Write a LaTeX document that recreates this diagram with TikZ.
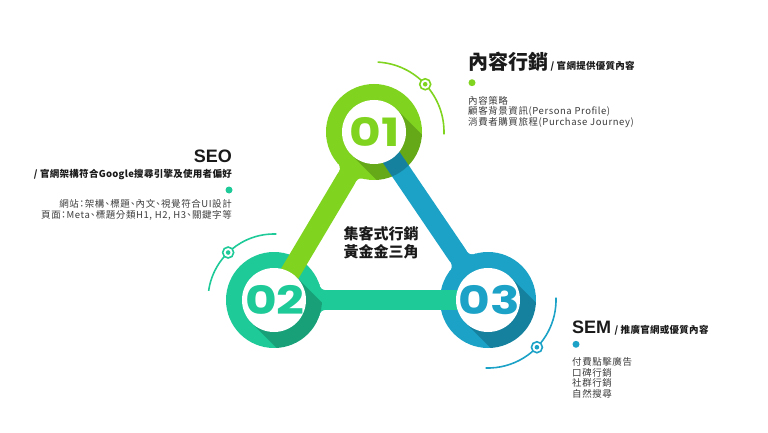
\documentclass[tikz,border=0pt]{standalone}
\usepackage{fontspec}
\setmainfont{Noto Sans CJK TC}
\newfontfamily\bodyfont{Noto Sans CJK TC}[LetterSpace=6, RawFeature=+halt]
\newfontfamily\subfont{Noto Sans CJK TC}[LetterSpace=3]
\newfontfamily\numfont{Poppins}
\newfontfamily\latfont{Liberation Sans}
\usepackage{tikz}

\definecolor{cone}{RGB}{128,212,31}
\definecolor{ctwo}{RGB}{30,202,152}
\definecolor{cthree}{RGB}{28,162,198}
\definecolor{ink}{RGB}{26,26,26}

\begin{document}
\begin{tikzpicture}[x=1pt, y=1pt,
    bar/.style={line width=20pt},
    num/.style={font=\numfont\bfseries\fontsize{39}{39}\selectfont, inner sep=0pt, xscale=1.25},
    head/.style={font=\bfseries\fontsize{20}{20}\selectfont, text=ink, inner sep=0pt},
    headlat/.style={font=\latfont\bfseries\fontsize{18}{18}\selectfont, text=ink, inner sep=0pt},
    sub/.style={font=\subfont\bfseries\fontsize{9.5}{9.5}\selectfont, text=ink, inner sep=0pt},
    body/.style={font=\bodyfont\fontsize{9.5}{9.5}\selectfont, text=ink!85, inner sep=0pt}]
  \useasboundingbox (0,0) rectangle (768,432);

  \coordinate (one) at (374,300);
  \coordinate (two) at (274,132);
  \coordinate (three) at (488,132);

  % rings
  \foreach \r/\c in {one/cone, two/ctwo, three/cthree}
    \fill[\c] (\r) circle (48);

  % links
  \draw[bar, cone] (one) -- (two);
  \draw[bar, ctwo] (two) -- (three);
  \draw[bar, cthree] (three) -- (one);

  % fillets where a link leaves its own ring
  \foreach \r/\a/\c in {one/239.2/cone, two/0/ctwo, three/124.2/cthree}{
    \begin{scope}[shift={(\r)}, rotate=\a]
      \fill[\c] (40,-16) rectangle (51.6,16);
      \fill[white] (51.6,16) circle (6) (51.6,-16) circle (6);
    \end{scope}
  }

  % long shadows
  \foreach \r in {one, two, three}{
    \begin{scope}
      \clip (\r) circle (48);
      \fill[black, opacity=.2, shift={(\r)}, rotate=-45] (0,-32) rectangle (120,32);
    \end{scope}
  }

  % faces
  \foreach \r/\c/\n in {one/cone/01, two/ctwo/02, three/cthree/03}{
    \fill[white] (\r) circle (32);
    \node[num, text=\c] (n\n) at ([xshift=1pt]\r) {\n};
  }

  % orbits
  \foreach \r/\c/\rad/\s/\e/\m in {one/cone/70/87/-2/43, two/ctwo/66/88/172/134, three/cthree/68/2/-92/-44}{
    \draw[\c, line width=1.6pt] (\r) ++(\s:\rad) arc[start angle=\s, end angle=\e, radius=\rad];
    \draw[\c, line width=1.6pt, fill=white] (\r) ++(\m:\rad) circle (5.5);
    \fill[\c] (\r) ++(\m:\rad) circle (2.3);
  }

  \node[font=\bfseries\fontsize{15}{18.4}\selectfont, text=ink, align=center, inner sep=0pt] (core) at (381,189.5) {集客式行銷\\黃金金三角};

  % content marketing
  \node[head, anchor=base west] (cm) at (468,362.5) {內容行銷};
  \node[sub, anchor=base west] (cmsub) at ([xshift=2pt]cm.base east) {/ 官網提供優質內容};
  \fill[cone] (472,349.3) circle (3.5);
  \foreach \t [count=\i] in {內容策略, 顧客背景資訊(Persona Profile), 消費者購買旅程(Purchase Journey)}
    \node[body, anchor=base west] at (468, 338.4-10.7*\i) {\t};

  % seo
  \node[headlat, anchor=base east] (seo) at (232,269.3) {SEO};
  \node[sub, anchor=base east] (seosub) at (232,255) {/ 官網架構符合Google搜尋引擎及使用者偏好};
  \fill[ctwo] (229,242) circle (3.5);
  \foreach \t [count=\i] in {網站：架構、標題、內文、視覺符合UI設計, {頁面：Meta、標題分類H1, H2, H3、關鍵字等}}
    \node[body, anchor=base east] at (232, 236.6-11.6*\i) {\t};

  % sem
  \node[headlat, anchor=base west] (sem) at (572,98.7) {SEM};
  \node[sub, anchor=base west] (semsub) at ([xshift=3pt]sem.base east) {/ 推廣官網或優質內容};
  \fill[cthree] (576,87.7) circle (3.5);
  \foreach \t [count=\i] in {付費點擊廣告, 口碑行銷, 社群行銷, 自然搜尋}
    \node[body, anchor=base west] at (572, 77.5-10.8*\i) {\t};
\end{tikzpicture}
\end{document}
